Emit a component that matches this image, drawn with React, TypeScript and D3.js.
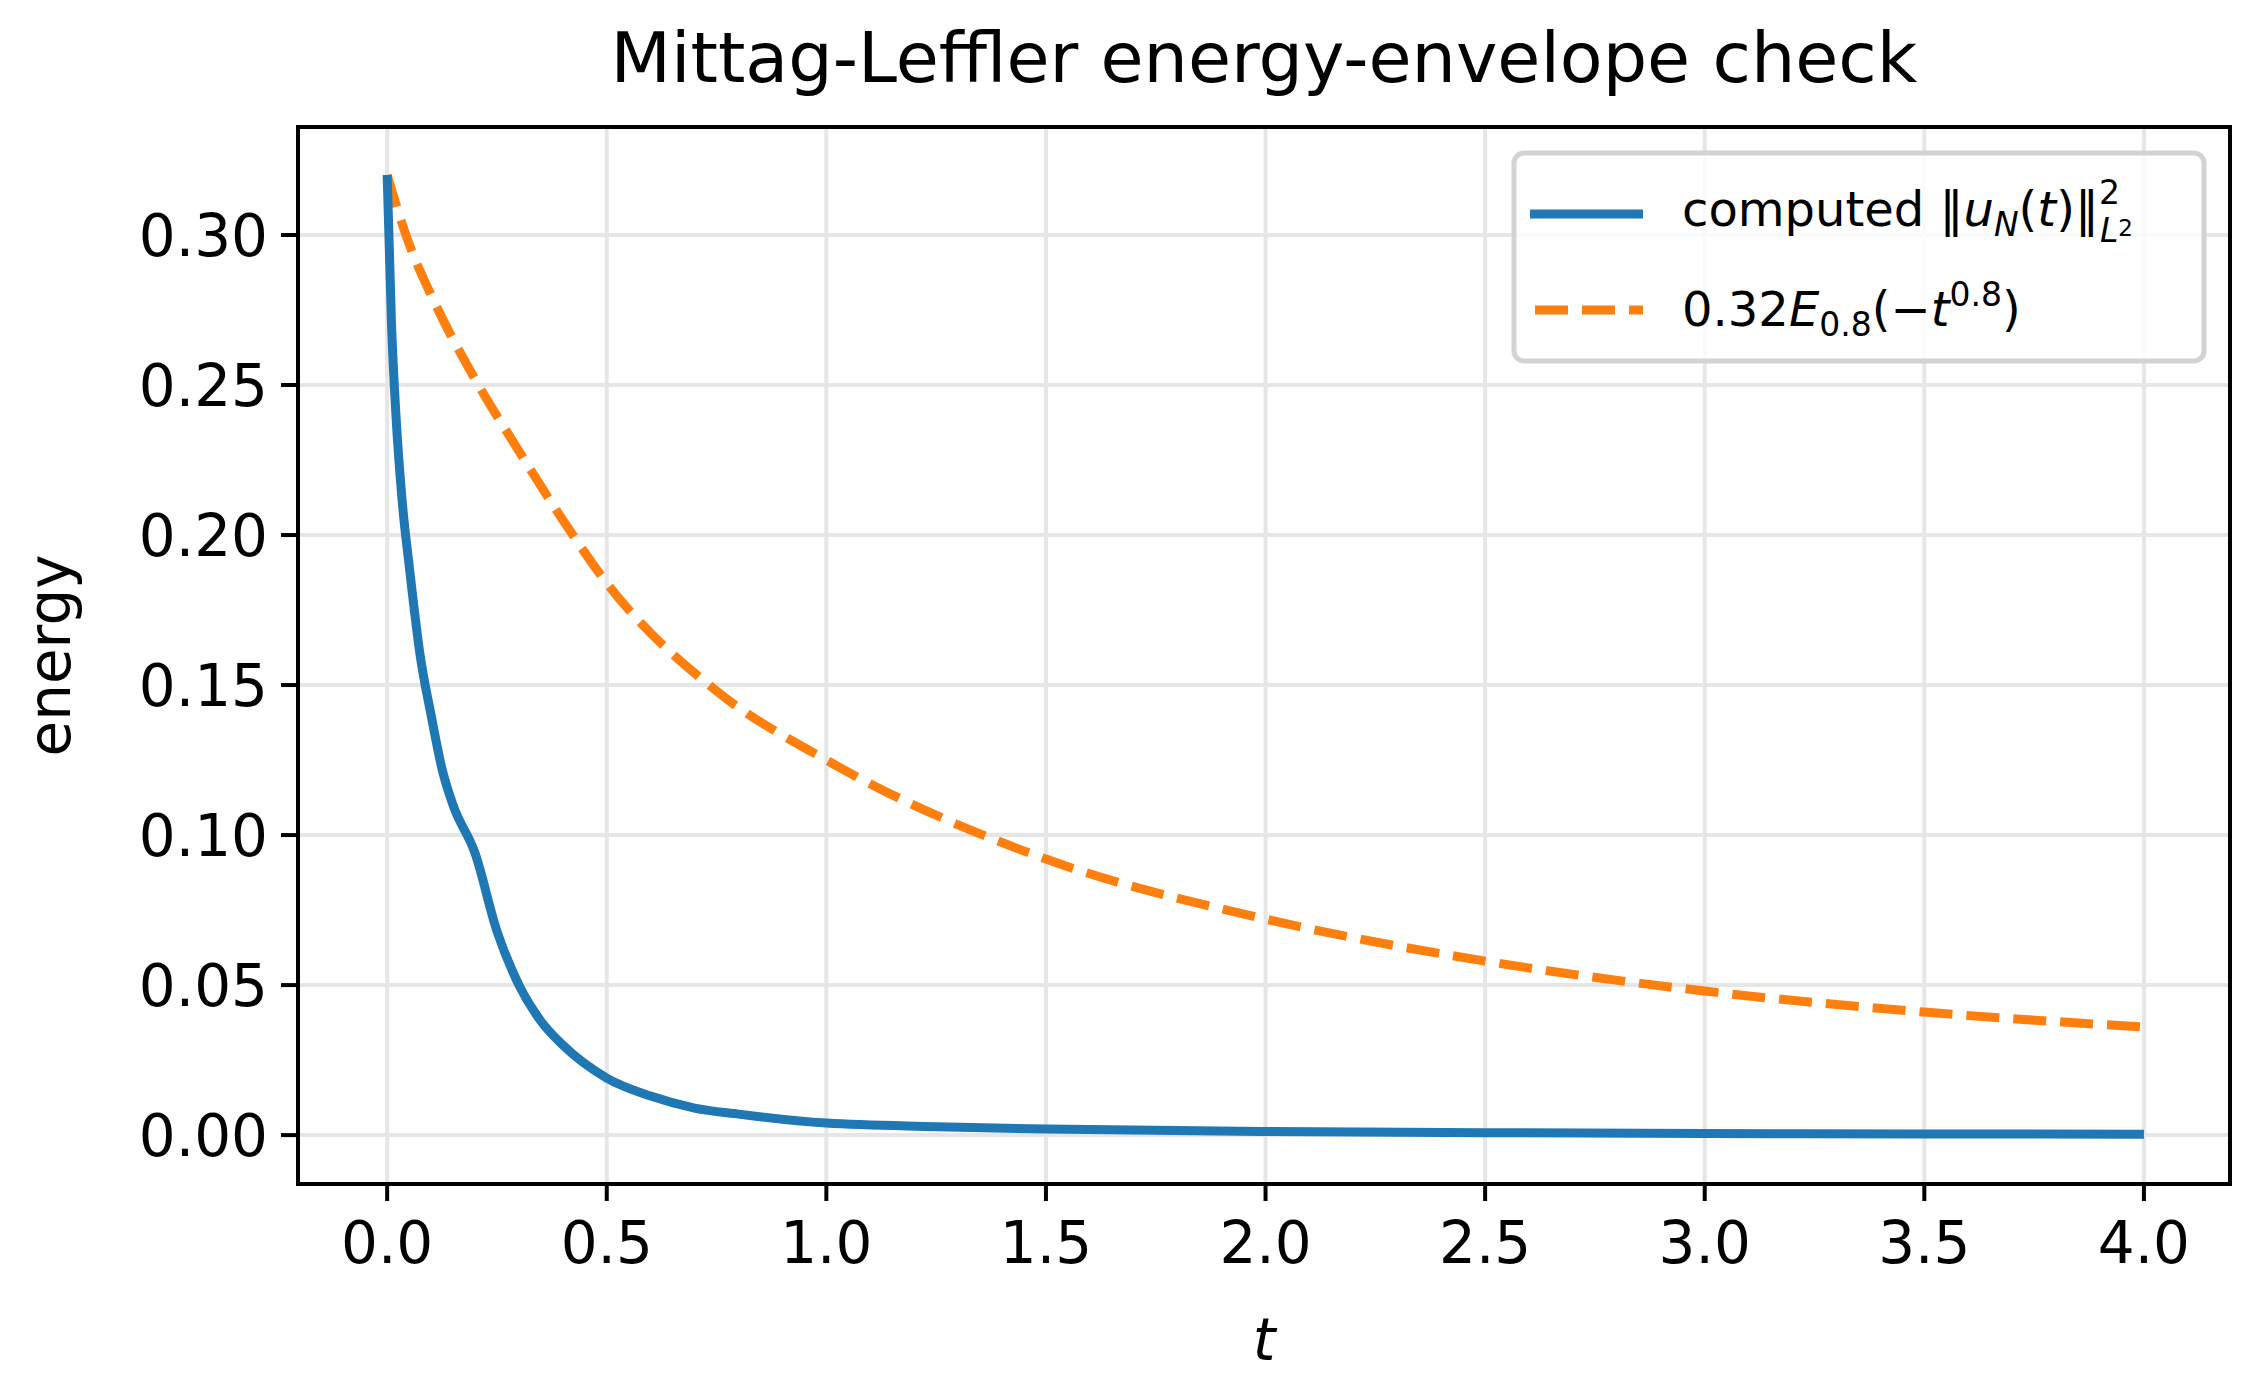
import React from "react";
import * as d3 from "d3";

const computedT = [0, 0.01, 0.02, 0.035, 0.05, 0.075, 0.1, 0.125, 0.15, 0.2, 0.25, 0.3, 0.35, 0.4, 0.5, 0.6, 0.7, 0.8, 1.0, 1.25, 1.5, 2.0, 2.5, 3.0, 3.5, 4.0];
const computedE = [0.32, 0.27, 0.24, 0.21, 0.19, 0.16, 0.14, 0.122, 0.11, 0.094, 0.068, 0.05, 0.038, 0.03, 0.019, 0.013, 0.009, 0.007, 0.004, 0.0028, 0.002, 0.0012, 0.0008, 0.0005, 0.0004, 0.0003];
const envT = [0, 0.05, 0.1, 0.2, 0.3, 0.4, 0.5, 0.75, 1.0, 1.5, 2.0, 2.5, 3.0, 3.5, 4.0];
const envE = [0.32, 0.297, 0.28, 0.252, 0.228, 0.205, 0.184, 0.148, 0.125, 0.092, 0.072, 0.058, 0.048, 0.041, 0.036];
const xTicks = [0, 0.5, 1, 1.5, 2, 2.5, 3, 3.5, 4];
const yTicks = [0, 0.05, 0.1, 0.15, 0.2, 0.25, 0.3];

const W = 2256, H = 1389;
const L = 298, R = 2230, T = 127, B = 1184;
const font = "DejaVu Sans";

export default function App() {
  const x = d3.scaleLinear().domain([-0.203, 4.196]).range([L, R]);
  const y = d3.scaleLinear().domain([-0.0163, 0.336]).range([B, T]);
  const line = d3.line<[number, number]>().x(d => x(d[0])).y(d => y(d[1])).curve(d3.curveMonotoneX);
  const blue = line(computedT.map((t, i) => [t, computedE[i]]));
  const orange = line(envT.map((t, i) => [t, envE[i]]));
  return (
    <svg width={W} height={H} style={{ display: "block", margin: -8 }} fontFamily={font}>
      <rect width={W} height={H} fill="white" />
      <text x={(L + R) / 2} y={82} fontSize={70} textAnchor="middle">Mittag-Leffler energy-envelope check</text>
      {xTicks.map(t => (
        <g key={t}>
          <line x1={x(t)} x2={x(t)} y1={T} y2={B} stroke="#e6e6e6" strokeWidth={4} />
          <line x1={x(t)} x2={x(t)} y1={B} y2={B + 17} stroke="black" strokeWidth={4} />
          <text x={x(t)} y={B + 79} fontSize={58} textAnchor="middle">{t.toFixed(1)}</text>
        </g>
      ))}
      {yTicks.map(v => (
        <g key={v}>
          <line x1={L} x2={R} y1={y(v)} y2={y(v)} stroke="#e6e6e6" strokeWidth={4} />
          <line x1={L - 17} x2={L} y1={y(v)} y2={y(v)} stroke="black" strokeWidth={4} />
          <text x={L - 30} y={y(v) + 21} fontSize={58} textAnchor="end">{v.toFixed(2)}</text>
        </g>
      ))}
      <path d={orange ?? ""} fill="none" stroke="#ff7f0e" strokeWidth={9} strokeDasharray="33 14" />
      <path d={blue ?? ""} fill="none" stroke="#1f77b4" strokeWidth={9} />
      <rect x={L} y={T} width={R - L} height={B - T} fill="none" stroke="black" strokeWidth={4} />
      <text x={(L + R) / 2} y={1360} fontSize={58} textAnchor="middle" fontStyle="italic">t</text>
      <text transform={`translate(70,${(T + B) / 2}) rotate(-90)`} fontSize={58} textAnchor="middle">energy</text>
      <g>
        <rect x={1514} y={153} width={690} height={208} rx={10} fill="white" fillOpacity={0.8} stroke="#d3d3d3" strokeWidth={5} />
        <line x1={1530} x2={1643} y1={214} y2={214} stroke="#1f77b4" strokeWidth={9} />
        <text x={1682} y={226} fontSize={48}>
          computed ‖<tspan fontStyle="italic">u</tspan><tspan fontSize={33} dy={10} fontStyle="italic">N</tspan>
          <tspan dy={-10}>(</tspan><tspan fontStyle="italic">t</tspan>)‖
          <tspan fontSize={33} dy={-22}>2</tspan><tspan fontSize={33} dx={-20} dy={38} fontStyle="italic">L</tspan><tspan fontSize={23} dy={-6}>2</tspan>
        </text>
        <line x1={1535} x2={1643} y1={310} y2={310} stroke="#ff7f0e" strokeWidth={9} strokeDasharray="33 14" />
        <text x={1682} y={326} fontSize={48}>
          0.32<tspan fontStyle="italic">E</tspan><tspan fontSize={33} dy={10}>0.8</tspan>
          <tspan dy={-10}>(−</tspan><tspan fontStyle="italic">t</tspan><tspan fontSize={33} dy={-20}>0.8</tspan><tspan dy={20}>)</tspan>
        </text>
      </g>
    </svg>
  );
}
